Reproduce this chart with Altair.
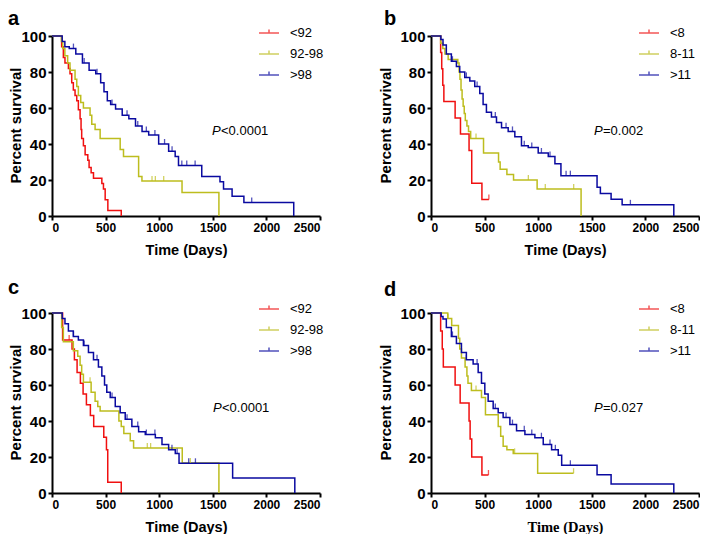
import altair as alt
import pandas as pd

FONT = "Liberation Sans"
SERIF = "Liberation Serif"

GROUPS_AC = ["<92", "92-98", ">98"]
GROUPS_BD = ["<8", "8-11", ">11"]
COLORS = ["#F01010", "#BDBD1E", "#0A0AA0"]
X_TICKS = [0, 500, 1000, 1500, 2000, 2500]
Y_TICKS = [0, 20, 40, 60, 80, 100]

# ---------------- panel a ----------------
A_LOW_T = [0, 90, 106, 121, 153, 168, 184, 199, 215, 231, 246, 262, 271, 277, 293, 309, 334, 346, 365, 387, 465, 480, 496, 521, 646]
A_LOW_S = [100, 94, 88, 85, 82, 79, 74, 70, 67, 64, 59, 54, 48, 43, 39, 34, 31, 27, 24, 21, 18, 15, 9, 3, 0]
A_MID_T = [0, 88, 100, 120, 146, 168, 215, 231, 246, 268, 293, 355, 371, 402, 449, 636, 667, 808, 839, 1213, 1557]
A_MID_S = [100, 97, 93, 89, 85, 81, 76, 72, 67, 63, 60, 56, 51, 48, 43, 37, 33, 22, 19.5, 13, 0]
A_HIGH_T = [0, 95, 120, 161, 222, 284, 346, 408, 454, 485, 516, 547, 593, 655, 717, 779, 840, 902, 995, 1088, 1149, 1180, 1397, 1567, 1600, 1680, 1790, 2255]
A_HIGH_S = [100, 97, 94, 93, 90, 85, 81, 79, 74, 69, 64, 62, 59.5, 56, 54, 50, 47, 45, 40, 36, 33, 28, 22, 19, 15, 11, 7.5, 0]
A_LOW_C = []
A_MID_C = [933, 964, 1042]
A_HIGH_C = [200, 300, 420, 560, 700, 800, 880, 960, 1050, 1120, 1211, 1257, 1335, 1863]

# ---------------- panel b ----------------
B_LOW_T = [0, 90, 100, 110, 120, 225, 275, 355, 380, 475, 540]
B_LOW_S = [100, 90.9, 81.8, 72.7, 63.6, 54.5, 45.5, 36.4, 18.2, 9.1, 9.1]
B_MID_T = [0, 90, 110, 130, 160, 250, 262, 270, 280, 290, 300, 310, 320, 335, 350, 370, 490, 630, 645, 708, 770, 990, 1400]
B_MID_S = [100, 96, 93, 90, 87, 85, 80, 76, 70, 65, 61, 57, 53, 50, 47, 43, 35, 30, 26, 23, 20, 15, 0]
B_HIGH_T = [0, 92, 112, 143, 190, 237, 268, 315, 362, 408, 455, 486, 517, 564, 611, 658, 720, 782, 844, 907, 1000, 1094, 1156, 1212, 1549, 1580, 1680, 1783, 2265]
B_HIGH_S = [100, 98, 95, 90, 86, 83, 80, 77, 75, 72, 68, 62, 57.6, 55, 52, 49, 47, 44, 39, 38, 35, 33, 29, 22.4, 16, 12.5, 9.3, 6.2, 0]
B_LOW_C = [540]
B_MID_C = [420, 908, 1066, 1331]
B_HIGH_C = [200, 330, 430, 600, 700, 760, 870, 940, 1030, 1110, 1260, 1300, 1860]

# ---------------- panel c ----------------
C_LOW_T = [0, 99, 187, 209, 234, 265, 290, 321, 358, 389, 483, 508, 520, 646]
C_LOW_S = [100, 85, 80, 74, 67, 61, 55, 49, 43, 37, 31, 24, 6, 0]
C_MID_T = [0, 90, 106, 199, 240, 262, 277, 293, 365, 402, 427, 449, 624, 646, 670, 730, 761, 1215, 1557]
C_MID_S = [100, 92, 84, 79, 76, 71, 66, 61.5, 56, 51, 48, 45.5, 40, 37, 33, 29, 25, 16.7, 0]
C_HIGH_T = [0, 95, 121, 153, 199, 246, 293, 340, 387, 433, 465, 490, 511, 543, 590, 636, 683, 745, 808, 870, 964, 1026, 1088, 1150, 1185, 1685, 2265]
C_HIGH_S = [100, 97, 94, 90, 87, 85, 82, 78, 74, 70, 65, 60, 56, 53, 48, 44.6, 41, 37, 34, 32.5, 30.7, 27, 24, 22, 16.5, 8.3, 0]
C_LOW_C = [160]
C_MID_C = [355, 889, 920, 1290]
C_HIGH_C = [200, 300, 420, 560, 700, 800, 880, 960, 1119, 1167, 1275, 1338]

# ---------------- panel d ----------------
D_LOW_T = [0, 90, 105, 115, 225, 272, 355, 365, 380, 475, 536]
D_LOW_S = [100, 90, 80, 70, 60, 50, 40, 30, 20, 10, 10]
D_MID_T = [0, 156, 193, 256, 268, 284, 318, 335, 345, 377, 471, 508, 627, 650, 673, 708, 767, 995, 1330]
D_MID_S = [100, 97, 93, 86, 80, 75, 70, 65, 61, 57, 53, 43.5, 37, 31.5, 26, 24, 22, 11, 11]
D_HIGH_T = [0, 95, 112, 143, 190, 237, 284, 330, 393, 440, 471, 502, 533, 580, 627, 673, 736, 798, 876, 969, 1047, 1125, 1187, 1219, 1549, 1680, 2265]
D_HIGH_S = [100, 98, 96.7, 92, 87, 83, 78, 74, 71.6, 67, 61, 55, 51, 47, 44.6, 42, 38, 34.6, 32.5, 30.7, 27, 24, 21, 15.4, 10.2, 5, 0]
D_LOW_C = [536]
D_MID_C = [160, 420, 780, 1330]
D_HIGH_C = [200, 330, 430, 600, 700, 760, 870, 940, 1030, 1110, 1160, 1300]

P_AC = ["P", "<0.0001"]
P_B = ["P", "=0.002"]
P_D = ["P", "=0.027"]


def step_value(t, s, x):
    v = s[0]
    for ti, si in zip(t, s):
        if ti <= x:
            v = si
    return v


def frames(groups, series, censors):
    rows, cens = [], []
    for g, (t, s), c in zip(groups, series, censors):
        for ti, si in zip(t, s):
            rows.append({"day": ti, "pct": si, "group": g})
        for ci in c:
            cens.append({"day": ci, "pct": step_value(t, s, ci), "group": g})
    return pd.DataFrame(rows), pd.DataFrame(cens)


def panel(letter, groups, series, censors, ptext, xtitle_font, title_x,
          letter_x, letter_y, legend_x, legend_y, p_x):
    lines_df, cens_df = frames(groups, series, censors)
    color = alt.Color(
        "group:N", sort=groups,
        scale=alt.Scale(domain=groups, range=COLORS),
        legend=alt.Legend(
            orient="none", legendX=legend_x, legendY=legend_y, title=None,
            symbolType="M-1,0H1M0,0V-0.35", symbolSize=400,
            symbolStrokeWidth=1.5, labelFont=FONT, labelFontSize=13,
            labelFontWeight="normal", labelColor="black",
            labelOffset=10, rowPadding=3, padding=0),
    )
    x = alt.X("day:Q", scale=alt.Scale(domain=[0, 2500], nice=False),
              axis=alt.Axis(values=X_TICKS, format="d", title="Time (Days)",
                            labelFontSize=12, titleFont=xtitle_font,
                            titleFontSize=14.5, titleY=38, labelOverlap=False,
                            titleBaseline="alphabetic"))
    y = alt.Y("pct:Q", scale=alt.Scale(domain=[0, 100], nice=False),
              axis=alt.Axis(values=Y_TICKS, tickCount=6, title="Percent survival",
                            labelFontSize=15, titleFontSize=15,
                            labelOverlap=False, labelBound=False,
                            titleX=title_x, titleY=89, titleAngle=270,
                            titleBaseline="bottom", titleAlign="center"))
    lines = alt.Chart(lines_df).mark_line(
        interpolate="step-after", strokeWidth=1.5).encode(x=x, y=y, color=color)
    ticks = alt.Chart(cens_df).mark_tick(
        orient="vertical", size=5, thickness=1.3, yOffset=-2.5
    ).encode(x=x, y=y, color=color)
    p1 = alt.Chart(pd.DataFrame({"label": [ptext[0]]})).mark_text(
        font=FONT, fontSize=13, fontStyle="italic", align="left",
        baseline="middle", color="black"
    ).encode(x=alt.value(p_x), y=alt.value(95), text="label:N")
    p2 = alt.Chart(pd.DataFrame({"label": [ptext[1]]})).mark_text(
        font=FONT, fontSize=13, align="left", baseline="middle",
        color="black", dx=9
    ).encode(x=alt.value(p_x), y=alt.value(95), text="label:N")
    lab = alt.Chart(pd.DataFrame({"label": [letter]})).mark_text(
        font=FONT, fontSize=20, fontWeight="bold", align="left",
        baseline="alphabetic", color="black"
    ).encode(x=alt.value(letter_x), y=alt.value(letter_y), text="label:N")
    return alt.layer(lines, ticks, p1, p2, lab).properties(width=268, height=180)


pa = panel("a", GROUPS_AC, [(A_LOW_T, A_LOW_S), (A_MID_T, A_MID_S), (A_HIGH_T, A_HIGH_S)],
           [A_LOW_C, A_MID_C, A_HIGH_C], P_AC, FONT, -29, -44, -11.5, 206, -14, 160)
pb = panel("b", GROUPS_BD, [(B_LOW_T, B_LOW_S), (B_MID_T, B_MID_S), (B_HIGH_T, B_HIGH_S)],
           [B_LOW_C, B_MID_C, B_HIGH_C], P_B, FONT, -37.8, -47, -11.5, 207, -14, 163)
pc = panel("c", GROUPS_AC, [(C_LOW_T, C_LOW_S), (C_MID_T, C_MID_S), (C_HIGH_T, C_HIGH_S)],
           [C_LOW_C, C_MID_C, C_HIGH_C], P_AC, FONT, -29, -44, -19, 206, -15, 161)
pd_ = panel("d", GROUPS_BD, [(D_LOW_T, D_LOW_S), (D_MID_T, D_MID_S), (D_HIGH_T, D_HIGH_S)],
            [D_LOW_C, D_MID_C, D_HIGH_C], P_D, SERIF, -37.8, -47, -17.5, 207, -15, 163)

chart = alt.concat(
    pa, pb, pc, pd_, columns=2, spacing={"row": 97, "column": 111}, bounds="flush"
).resolve_scale(color="independent").resolve_legend(color="independent")

chart = chart.properties(padding=0).configure(font=FONT).configure_view(
    stroke=None
).configure_axis(
    domainColor="black", domainWidth=2, tickColor="black", tickWidth=2,
    tickSize=4, labelColor="black", titleColor="black", labelFont=FONT,
    labelFontWeight="bold", titleFont=FONT, titleFontWeight="bold",
    grid=False, labelPadding=2,
)

chart.save("out.html", embed_options={"renderer": "svg", "actions": False})
